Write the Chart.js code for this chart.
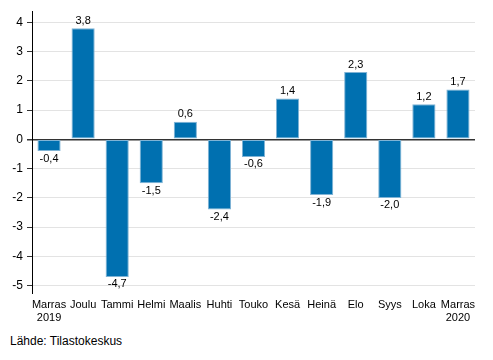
<!DOCTYPE html>
<html>
<head>
<meta charset="utf-8">
<script src="https://cdn.jsdelivr.net/npm/chart.js@4"></script>
<style>
  body { margin: 0; background: #fff; }
  #wrap { position: relative; width: 493px; height: 360px; }
  #chart { position: absolute; left: 0; top: 0; }
  #source { position: absolute; left: 10px; top: 334px; font: 12px "Liberation Sans", Arial, sans-serif; color: #000; }
</style>
</head>
<body>
<div id="wrap">
  <canvas id="chart" width="493" height="334"></canvas>
  <div id="source">Lähde: Tilastokeskus</div>
</div>
<script>
let months = [['Marras', '2019'], 'Joulu', 'Tammi', 'Helmi', 'Maalis', 'Huhti', 'Touko', 'Kesä', 'Heinä', 'Elo', 'Syys', 'Loka', ['Marras', '2020']];
let changes = [-0.4, 3.8, -4.7, -1.5, 0.6, -2.4, -0.6, 1.4, -1.9, 2.3, -2.0, 1.2, 1.7];
let yTicks = [-5, -4, -3, -2, -1, 0, 1, 2, 3, 4];

// arvot palkkien päälle / alle
let valueLabels = {
  id: 'valueLabels',
  afterDatasetsDraw(chart) {
    let ctx = chart.ctx;
    let meta = chart.getDatasetMeta(0);
    ctx.save();
    ctx.font = '11px "Liberation Sans", Arial, sans-serif';
    ctx.fillStyle = '#000';
    ctx.textAlign = 'center';
    meta.data.forEach((bar, i) => {
      let v = changes[i];
      let txt = v.toFixed(1).replace('.', ',');
      if (v >= 0) {
        ctx.textBaseline = 'bottom';
        ctx.fillText(txt, bar.x, bar.y - 2);
      } else {
        ctx.textBaseline = 'top';
        ctx.fillText(txt, bar.x, bar.y + 2);
      }
    });
    ctx.restore();
  }
};

let ctx = document.getElementById('chart').getContext('2d');

let chart = new Chart(ctx, {
  type: 'bar',
  data: {
    labels: months,
    datasets: [{
      data: changes,
      backgroundColor: '#0070b0',
      borderColor: '#7fb3d5',
      borderWidth: 1,
      borderSkipped: false,
      barPercentage: 0.68,
      categoryPercentage: 1
    }]
  },
  options: {
    responsive: false,
    animation: false,
    layout: { padding: { top: 10, right: 18, left: 8, bottom: 0 } },
    plugins: {
      legend: { display: false },
      tooltip: { enabled: false }
    },
    scales: {
      x: {
        afterFit: (s) => { s.height = 41; },
        grid: { display: false, drawTicks: false },
        border: { display: false },
        ticks: {
          color: '#000',
          maxRotation: 0,
          autoSkip: false,
          padding: 5,
          font: { family: '"Liberation Sans", Arial, sans-serif', size: 11 }
        }
      },
      y: {
        min: -5.25,
        max: 4.38,
        afterFit: (s) => { s.width = 24; },
        afterBuildTicks: (axis) => { axis.ticks = yTicks.map(v => ({ value: v })); },
        grid: {
          color: (c) => c.tick && c.tick.value === 0 ? '#333' : '#e3e3e3',
          tickColor: '#333',
          tickLength: 5,
          lineWidth: (c) => c.tick && c.tick.value === 0 ? 1.5 : 1
        },
        border: { display: true, color: '#000', width: 1 },
        ticks: {
          color: '#000',
          padding: 4,
          font: { family: '"Liberation Sans", Arial, sans-serif', size: 12 },
          callback: (v) => String(v)
        }
      }
    }
  },
  plugins: [valueLabels]
});
</script>
</body>
</html>
